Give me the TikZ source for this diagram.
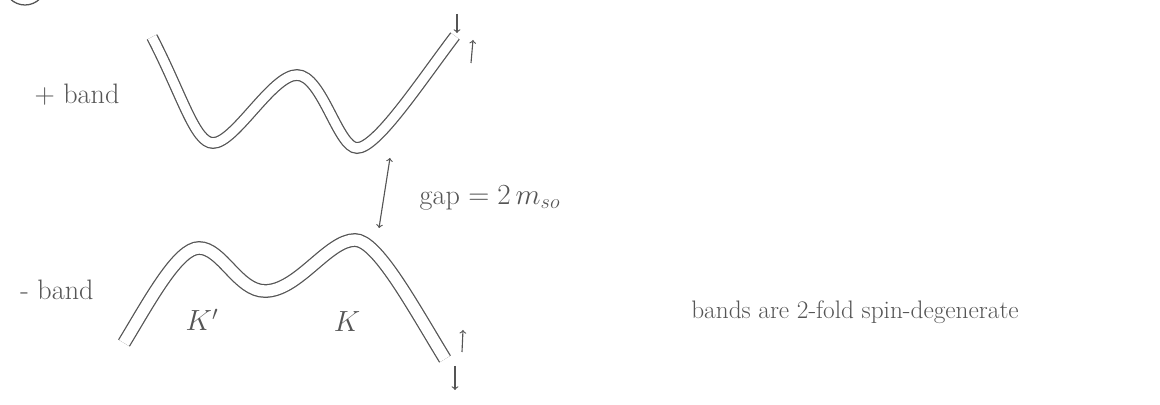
\documentclass[tikz,border=0pt]{standalone}
\usepackage{tikz}
\usepackage{xcolor}
\definecolor{pencilgray}{RGB}{85,85,85}

\begin{document}
\begin{tikzpicture}[x=0.025cm, y=-0.025cm,
    bandline/.style={pencilgray, line width=0.9pt, double=white},
    spin/.style={pencilgray, line width=0.8pt, ->},
    note/.style={pencilgray, font=\fontsize{20}{24}\selectfont, inner sep=1pt}]
    \useasboundingbox (0,0) rectangle (1160,405);

    % item circle, cut by the page edge
    \begin{scope}
        \clip (0,0) rectangle (1160,405);
        \draw[pencilgray, line width=0.9pt] (25,-16) circle (21);
    \end{scope}

    % + band (W shape)
    \draw[bandline, double distance=6.6pt] (152,37) .. controls (182,95) and (195,143) .. (213,143)
        .. controls (235,143) and (272,75) .. (297,75)
        .. controls (322,75) and (338,148) .. (357,148)
        .. controls (377,148) and (420,82) .. (455,36);

    % - band (M shape)
    \draw[bandline, double distance=8pt] (124,343) .. controls (150,300) and (178,248) .. (199,248)
        .. controls (222,248) and (238,291) .. (265,291)
        .. controls (298,291) and (328,240) .. (355,240)
        .. controls (377,240) and (412,305) .. (445,359);

    % spin arrows at the band ends
    \draw[spin] (457,14) -- (457,33);
    \draw[spin] (471,63) -- (473,40);
    \draw[spin] (462,352) -- (463,330);
    \draw[spin] (455,366) -- (455,390);

    % labels
    \node[note] (plusband) at (77,95) {+ band};
    \node[note] (minusband) at (57,290) {- band};
    \node[note] (kprime) at (202,320) {$K'$};
    \node[note] (kvalley) at (347,322) {$K$};

    % gap between the bands
    \coordinate (gaptop) at (390,158);
    \coordinate (gapbot) at (379,228);
    \draw[spin, <->] (gaptop) -- (gapbot);
    \node[note, anchor=west] (gaplabel) at (418,198) {gap $=2\,m_{so}$};

    \node[note, font=\fontsize{18}{22}\selectfont] (degenerate) at (855,312) {bands are 2-fold spin-degenerate};
\end{tikzpicture}
\end{document}
